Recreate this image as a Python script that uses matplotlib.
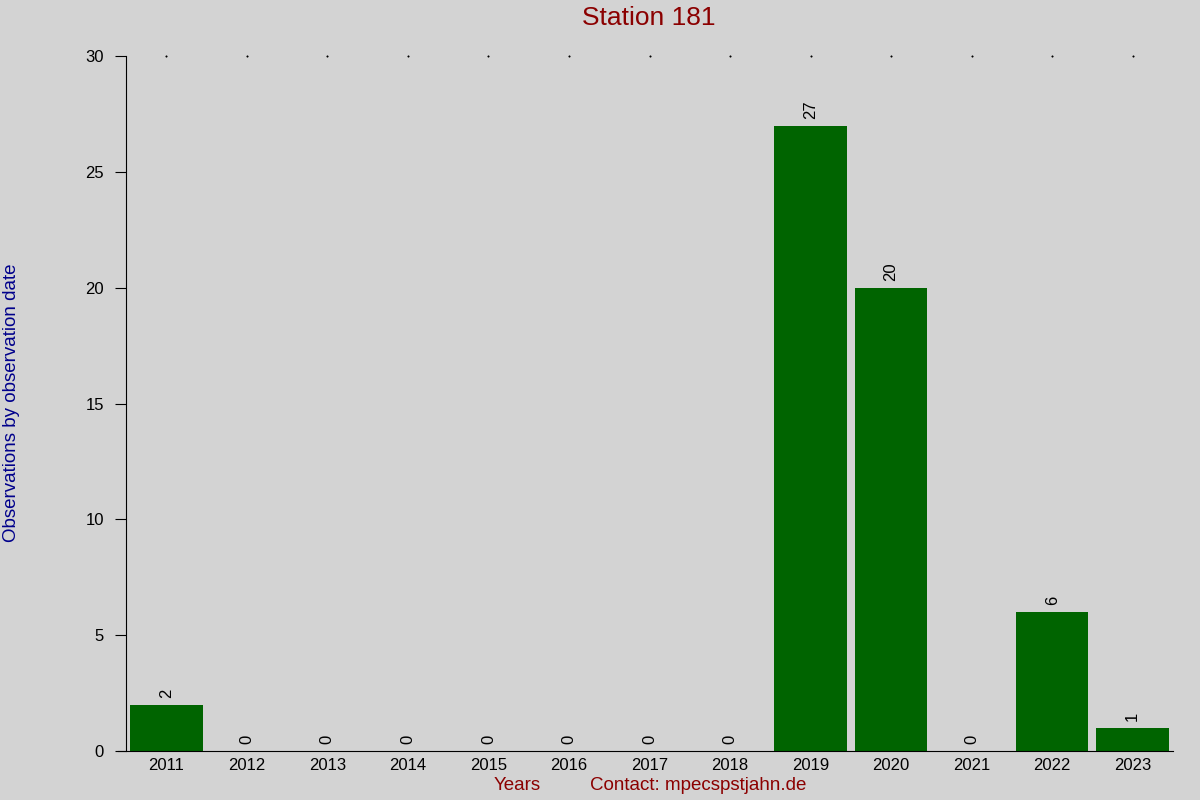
import matplotlib
matplotlib.use('Agg')
import matplotlib.pyplot as plt

years = ['2011', '2012', '2013', '2014', '2015', '2016', '2017',
         '2018', '2019', '2020', '2021', '2022', '2023']
counts = [2, 0, 0, 0, 0, 0, 0, 0, 27, 20, 0, 6, 1]
yticks = [0, 5, 10, 15, 20, 25, 30]

plt.rcParams['font.family'] = ['Liberation Sans', 'DejaVu Sans']

fig = plt.figure(figsize=(12, 8), dpi=100, facecolor='#d3d3d3')
ax = fig.add_axes([0.105, 0.06125, 0.8725, 0.86875])
ax.set_facecolor('#d3d3d3')

x = list(range(len(years)))
ax.bar(x, counts, width=0.9, color='#006400')
for xi, c in zip(x, counts):
    ax.text(xi, c + 0.3, str(c), rotation=90, ha='center', va='bottom',
            fontsize=12, color='black')

# tiny tick dots along the top
ax.plot(x, [30] * len(x), linestyle='none', marker='s', markersize=0.5,
        color='black', clip_on=False)

ax.set_xlim(-0.5, 12.5)
ax.set_ylim(0, 30)
ax.set_xticks(x)
ax.set_xticklabels(years, fontsize=12)
ax.set_yticks(yticks)
ax.set_yticklabels([str(v) for v in yticks], fontsize=12)
ax.tick_params(axis='x', length=0, pad=5)
ax.tick_params(axis='y', length=8, pad=8)

for s in ['top', 'right']:
    ax.spines[s].set_visible(False)
ax.spines['bottom'].set_bounds(-0.6, 12.5)

fig.text(0.541, 0.977, 'Station 181', color='#8b0000', fontsize=19,
         ha='center', va='center')
fig.text(0.431, 0.0175, 'Years', color='#8b0000', fontsize=13.5,
         ha='center', va='center')
fig.text(0.5815, 0.0175, 'Contact: mpecspstjahn.de', color='#8b0000',
         fontsize=13.5, ha='center', va='center')
fig.text(0.0095, 0.496, 'Observations by observation date', color='#00008b',
         fontsize=13.5, rotation=90, ha='center', va='center')

fig.savefig('out.png', dpi=100, facecolor=fig.get_facecolor())
